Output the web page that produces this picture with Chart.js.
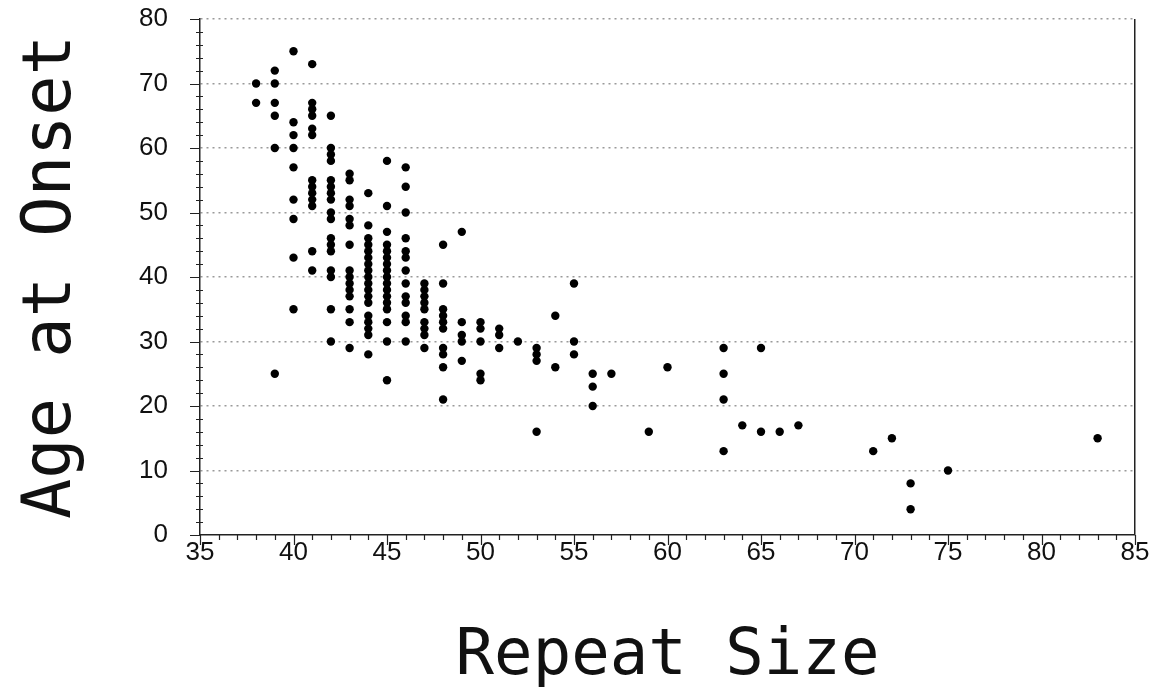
<!DOCTYPE html>
<html>
<head>
<meta charset="utf-8">
<script src="https://cdn.jsdelivr.net/npm/chart.js@4.4.1/dist/chart.umd.min.js"></script>
<style>
  html, body { margin: 0; padding: 0; background: #ffffff; }
  #wrap { width: 1155px; height: 699px; position: relative; }
</style>
</head>
<body>
<div id="wrap"><canvas id="c" width="1155" height="699"></canvas></div>
<script>
// Repeat sizes (x) and the ages at onset observed at each repeat size (y)
const repeatSizes = [38, 39, 40, 41, 42, 43, 44, 45, 46, 47, 48, 49, 50, 51, 52, 53, 54, 55, 56, 57, 59, 60, 63, 64, 65, 66, 67, 71, 72, 73, 75, 83];
const onsetAges = [
  [70, 67],
  [72, 70, 67, 65, 60, 25],
  [75, 64, 62, 60, 57, 52, 49, 43, 35],
  [73, 67, 66, 65, 63, 62, 55, 54, 53, 52, 51, 44, 41],
  [65, 60, 59, 58, 55, 54, 53, 52, 50, 49, 46, 45, 44, 41, 40, 35, 30],
  [56, 55, 52, 51, 49, 48, 45, 41, 40, 39, 38, 37, 35, 33, 29],
  [53, 48, 46, 45, 44, 43, 42, 41, 40, 39, 38, 37, 36, 34, 33, 32, 31, 28],
  [58, 51, 47, 45, 44, 43, 42, 41, 40, 39, 38, 37, 36, 35, 33, 30, 24],
  [57, 54, 50, 46, 44, 43, 41, 39, 37, 36, 34, 33, 30],
  [39, 38, 37, 36, 35, 33, 32, 31, 29],
  [45, 39, 35, 34, 33, 32, 29, 28, 26, 21],
  [47, 33, 31, 30, 27],
  [33, 32, 30, 25, 24],
  [32, 31, 29],
  [30],
  [29, 28, 27, 16],
  [34, 26],
  [39, 30, 28],
  [25, 23, 20],
  [25],
  [16],
  [26],
  [29, 25, 21, 13],
  [17],
  [29, 16],
  [16],
  [17],
  [13],
  [15],
  [8, 4],
  [10],
  [15]
];
const xTickValues = [35, 40, 45, 50, 55, 60, 65, 70, 75, 80, 85];
const yTickValues = [0, 10, 20, 30, 40, 50, 60, 70, 80];
const xTitle = 'Repeat Size';
const yTitle = 'Age at Onset';

const points = [];
repeatSizes.forEach((rs, i) => {
  onsetAges[i].forEach(age => points.push({ x: rs, y: age }));
});

const minorTicks = {
  id: 'minorTicks',
  afterDraw(chart) {
    const ctx = chart.ctx;
    const xs = chart.scales.x, ys = chart.scales.y;
    const ca = chart.chartArea;
    ctx.save();
    ctx.strokeStyle = '#222';
    ctx.lineWidth = 1.2;
    ctx.beginPath();
    for (let v = xs.min; v <= xs.max; v += 1) {
      const px = Math.round(xs.getPixelForValue(v)) + 0.5;
      const major = (v % 5 === 0);
      ctx.moveTo(px, ca.bottom);
      ctx.lineTo(px, ca.bottom + (major ? 10 : 5));
    }
    for (let v = ys.min; v <= ys.max; v += 2) {
      const py = Math.round(ys.getPixelForValue(v)) + 0.5;
      const major = (v % 10 === 0);
      ctx.moveTo(ca.left - (major ? 10 : 4), py);
      ctx.lineTo(ca.left + (major ? 0 : 3), py);
    }
    ctx.stroke();
    ctx.restore();
  }
};

new Chart(document.getElementById('c'), {
  type: 'scatter',
  data: {
    datasets: [{
      data: points,
      backgroundColor: '#000000',
      borderWidth: 0,
      pointRadius: 4.2,
      pointHoverRadius: 4.2
    }]
  },
  options: {
    responsive: false,
    animation: false,
    events: [],
    layout: { padding: { left: 0, right: 20, top: 19, bottom: 0 } },
    plugins: { legend: { display: false }, tooltip: { enabled: false } },
    scales: {
      x: {
        type: 'linear',
        min: 35, max: 85,
        afterFit(scale) { scale.height = 164; },
        afterBuildTicks(scale) { scale.ticks = xTickValues.map(v => ({ value: v })); },
        ticks: {
          color: '#111',
          font: { family: '"Liberation Sans", Arial, sans-serif', size: 26 },
          padding: 2,
          maxRotation: 0,
          autoSkip: false
        },
        grid: {
          drawTicks: false,
          color: ctx => (ctx.tick && ctx.tick.value === 85) ? '#222' : 'rgba(0,0,0,0)',
          lineWidth: 1.5
        },
        border: { display: true, color: '#222', width: 1.5 },
        title: {
          display: true,
          text: xTitle,
          color: '#111',
          font: { family: '"DejaVu Sans Mono", monospace', size: 64, lineHeight: 1 },
          padding: { top: 0, bottom: 10 }
        }
      },
      y: {
        type: 'linear',
        min: 0, max: 80,
        afterFit(scale) { scale.width = 200; },
        afterBuildTicks(scale) { scale.ticks = yTickValues.map(v => ({ value: v })); },
        ticks: {
          color: '#111',
          font: { family: '"Liberation Sans", Arial, sans-serif', size: 26 },
          padding: 3
        },
        grid: {
          drawTicks: true,
          tickLength: 29,
          tickColor: 'rgba(0,0,0,0)',
          color: ctx => (ctx.tick && ctx.tick.value === 0) ? 'rgba(0,0,0,0)' : '#9a9a9a',
          lineWidth: 1.5
        },
        border: { display: true, color: '#222', width: 1.5, dash: [2, 4] },
        title: {
          display: true,
          text: yTitle,
          color: '#111',
          font: { family: '"DejaVu Sans Mono", monospace', size: 67, lineHeight: 1 },
          padding: { top: 19, bottom: 0 }
        }
      }
    }
  },
  plugins: [minorTicks]
});
</script>
</body>
</html>
